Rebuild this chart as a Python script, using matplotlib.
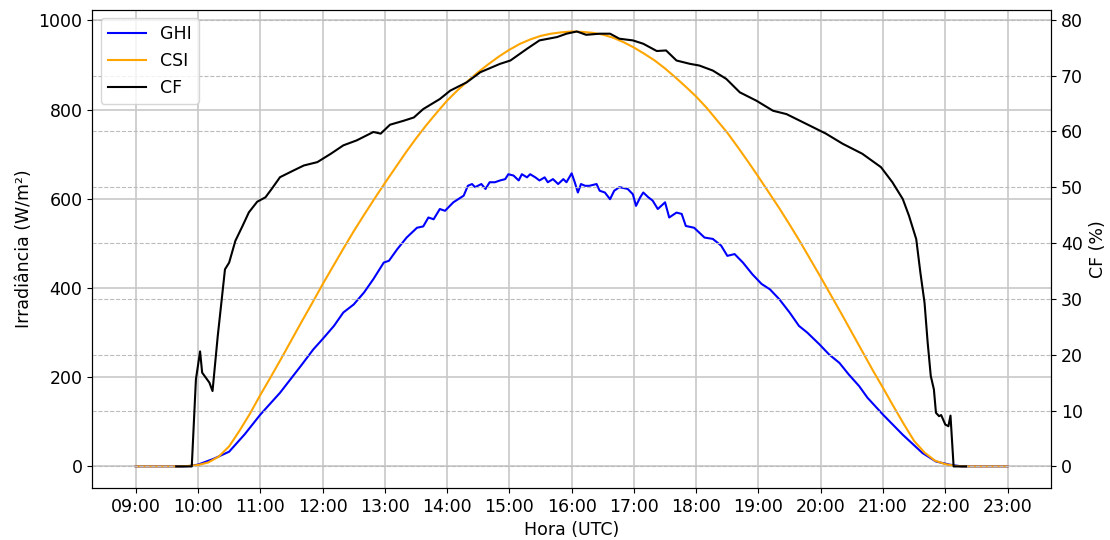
import numpy as np
import pandas as pd
import matplotlib
matplotlib.use('Agg')
import matplotlib.pyplot as plt
import matplotlib.dates as mdates

# Irradiância global medida (GHI) e de céu claro (CSI), em W/m², e fator de capacidade (CF) em %
dia = '2023-01-01 '

ghi_hora = ['09:00', '09:45', '09:52', '10:00', '10:15', '10:30', '10:45', '11:00', '11:19', '11:39',
            '11:51', '12:01', '12:11', '12:20', '12:30', '12:40', '12:49', '12:59', '13:04', '13:12',
            '13:21', '13:31', '13:37', '13:42', '13:47', '13:53', '13:58', '14:06', '14:16', '14:20',
            '14:24', '14:27', '14:33', '14:37', '14:41', '14:46', '14:51', '14:56', '14:59', '15:04',
            '15:09', '15:12', '15:17', '15:20', '15:25', '15:29', '15:34', '15:37', '15:42', '15:47',
            '15:52', '15:55', '16:00', '16:03', '16:06', '16:09', '16:13', '16:17', '16:24', '16:27',
            '16:32', '16:37', '16:41', '16:46', '16:54', '16:59', '17:02', '17:06', '17:09', '17:14',
            '17:18', '17:23', '17:30', '17:34', '17:41', '17:46', '17:50', '17:58', '18:08', '18:16',
            '18:24', '18:30', '18:37', '18:45', '18:54', '19:03', '19:11', '19:20', '19:30', '19:39',
            '19:47', '19:59', '20:08', '20:18', '20:27', '20:37', '20:45', '21:00', '21:19', '21:38',
            '21:51', '22:04', '22:16', '23:00']
ghi_valor = [0, 0, 1, 4, 17, 33, 72, 116, 165, 225,
             262, 288, 315, 345, 363, 390, 420, 457, 461, 487,
             513, 535, 538, 558, 554, 577, 573, 592, 607, 629,
             633, 626, 633, 622, 637, 637, 641, 644, 655, 652,
             641, 655, 648, 655, 648, 641, 648, 637, 644, 633,
             644, 637, 657, 637, 614, 633, 629, 629, 633, 618,
             614, 599, 618, 626, 622, 610, 584, 603, 614, 603,
             596, 577, 592, 558, 569, 566, 539, 535, 513, 510,
             495, 472, 476, 457, 431, 409, 397, 375, 345, 315,
             300, 273, 251, 232, 206, 180, 154, 116, 71, 30,
             11, 4, 0, 0]

csi_hora = ['09:00', '09:40', '09:50', '10:00', '10:10', '10:20', '10:30', '10:40', '10:50',
            '11:00', '11:10', '11:20', '11:30', '11:40', '11:50',
            '12:00', '12:10', '12:20', '12:30', '12:40', '12:50',
            '13:00', '13:10', '13:20', '13:30', '13:40', '13:50',
            '14:00', '14:10', '14:20', '14:30', '14:40', '14:50',
            '15:00', '15:10', '15:20', '15:30', '15:40', '15:50',
            '16:00', '16:10', '16:20', '16:30', '16:40', '16:50',
            '17:00', '17:10', '17:20', '17:30', '17:40', '17:50',
            '18:00', '18:10', '18:20', '18:30', '18:40', '18:50',
            '19:00', '19:10', '19:20', '19:30', '19:40', '19:50',
            '20:00', '20:10', '20:20', '20:30', '20:40', '20:50',
            '21:00', '21:10', '21:20', '21:30', '21:40', '21:50',
            '22:00', '22:10', '22:20', '23:00']
csi_valor = [0, 0, 1, 3, 9, 22, 45, 80, 118,
             160, 200, 241, 283, 325, 366,
             408, 448, 488, 527, 564, 600,
             635, 669, 703, 735, 765, 793,
             820, 843, 864, 884, 902, 919,
             934, 947, 957, 965, 970, 973,
             975, 974, 972, 968, 961, 951,
             939, 925, 910, 892, 872, 851,
             829, 804, 776, 748, 716, 683,
             649, 614, 579, 542, 504, 464,
             424, 383, 342, 300, 258, 216,
             176, 135, 95, 57, 31, 13,
             5, 1, 0, 0]

cf_hora = ['09:39', '09:54', '09:58', '10:02', '10:04', '10:11', '10:14', '10:19', '10:26', '10:30',
           '10:36', '10:43', '10:49', '10:57', '11:05', '11:11', '11:19', '11:32', '11:42', '11:55',
           '12:08', '12:20', '12:33', '12:49', '12:56', '13:05', '13:18', '13:28', '13:37', '13:53',
           '14:03', '14:19', '14:32', '14:51', '15:01', '15:17', '15:29', '15:46', '15:55', '16:05',
           '16:14', '16:27', '16:37', '16:46', '16:59', '17:09', '17:22', '17:31', '17:41', '17:54',
           '18:03', '18:16', '18:29', '18:42', '18:58', '19:14', '19:27', '19:52', '20:05', '20:21',
           '20:40', '20:58', '21:09', '21:19', '21:25', '21:32', '21:36', '21:40', '21:43', '21:46',
           '21:49', '21:51', '21:54', '21:56', '22:00', '22:03', '22:05', '22:08', '22:20']
cf_valor = [0, 0, 15.6, 20.6, 16.8, 15.0, 13.5, 23.3, 35.3, 36.5,
            40.4, 43.1, 45.5, 47.4, 48.2, 49.7, 51.8, 53.0, 53.9, 54.5,
            56.0, 57.5, 58.4, 59.9, 59.6, 61.2, 61.9, 62.5, 64.0, 65.8,
            67.3, 68.8, 70.6, 72.1, 72.7, 74.8, 76.3, 76.9, 77.5, 77.9,
            77.3, 77.5, 77.5, 76.6, 76.3, 75.7, 74.4, 74.5, 72.7, 72.1,
            71.8, 70.9, 69.4, 67.0, 65.5, 63.7, 63.1, 60.8, 59.6, 57.8,
            56.0, 53.6, 50.9, 47.9, 44.9, 40.7, 34.7, 29.3, 22.2, 16.2,
            13.8, 9.6, 9.0, 9.2, 7.5, 7.2, 9.1, 0, 0]

ghi_t = pd.to_datetime([dia + h for h in ghi_hora])
csi_t = pd.to_datetime([dia + h for h in csi_hora])
cf_t = pd.to_datetime([dia + h for h in cf_hora])

plt.rcParams['font.size'] = 12.5

fig, ax1 = plt.subplots(figsize=(11.1, 5.4), dpi=100)
fig.subplots_adjust(left=0.083, right=0.947, top=0.982, bottom=0.096)

l1, = ax1.plot(ghi_t, ghi_valor, color='blue', label='GHI')
l2, = ax1.plot(csi_t, csi_valor, color='orange', label='CSI')
ax1.set_xlabel('Hora (UTC)')
ax1.set_ylabel('Irradiância (W/m²)')
ax1.grid(True, color='#c8c8c8', linewidth=1.2)
ax1.xaxis.set_major_locator(mdates.HourLocator(interval=1))
ax1.xaxis.set_major_formatter(mdates.DateFormatter('%H:%M'))

ax2 = ax1.twinx()
l3, = ax2.plot(cf_t, cf_valor, color='black', label='CF')
ax2.set_ylabel('CF (%)')
ax2.grid(True, linestyle='--', color='#bbbbbb', linewidth=0.8)

ax2.legend(handles=[l1, l2, l3], loc='upper left', handlelength=2.2)

plt.savefig('out.png')
